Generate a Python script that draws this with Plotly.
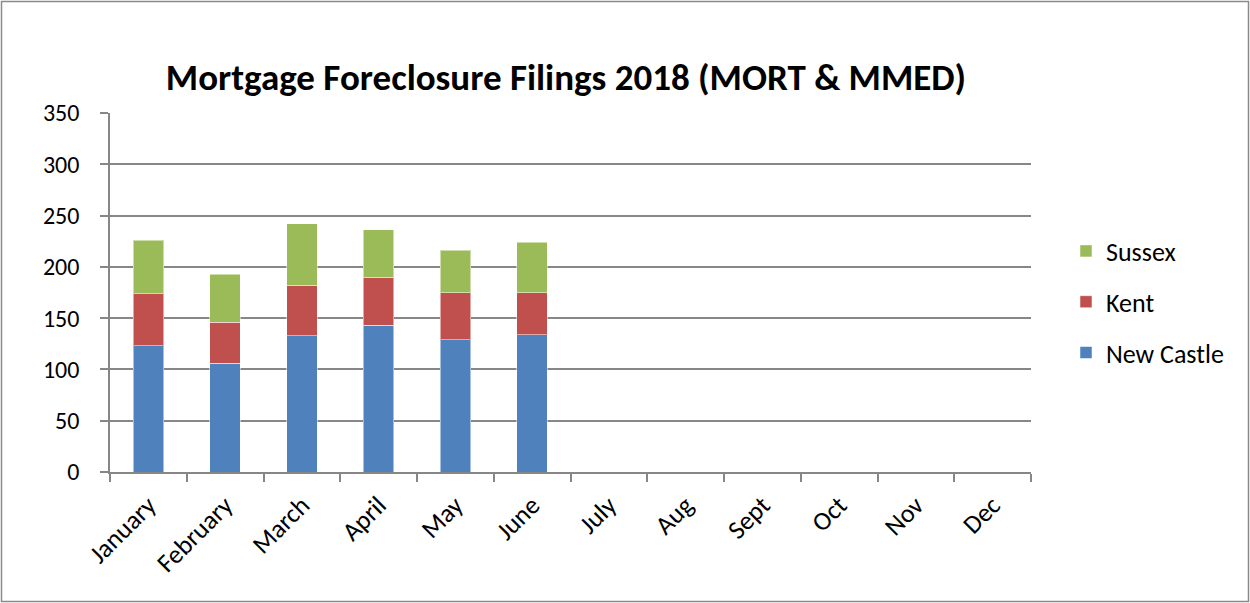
import plotly.graph_objects as go

months = ["January", "February", "March", "April", "May", "June",
          "July", "Aug", "Sept", "Oct", "Nov", "Dec"]
new_castle = [123, 106, 133, 143, 129, 134, None, None, None, None, None, None]
kent = [51, 40, 49, 47, 46, 41, None, None, None, None, None, None]
sussex = [52, 47, 60, 46, 41, 49, None, None, None, None, None, None]
y_ticks = [0, 50, 100, 150, 200, 250, 300, 350]

W, H = 1250, 603
L, R, T, B = 110, 219, 113, 131
FONT = "Carlito, Lato, 'Liberation Sans', sans-serif"
GRID = "#878787"

fig = go.Figure()
series = [("New Castle", new_castle, "#4F81BD", 3),
          ("Kent", kent, "#C0504D", 2),
          ("Sussex", sussex, "#9BBB59", 1)]
for name, vals, col, rank in series:
    fig.add_trace(go.Bar(
        x=months, y=vals, name=name, legendgroup=name, legendrank=rank,
        marker=dict(color=col, line=dict(color="rgba(255,255,255,0.5)", width=1)),
    ))

pw = W - L - R
ph = H - T - B
fig.add_shape(type="rect", xref="paper", yref="paper",
              x0=(1.5 - L) / pw, x1=(W - 1.5 - L) / pw,
              y0=-(H - 1.5 - T - ph) / ph, y1=(T - 1.5) / ph + 1,
              line=dict(color="#8a8a8a", width=1.5), layer="below")

fig.update_layout(
    width=W, height=H,
    margin=dict(l=L, r=R, t=T, b=B, pad=0, autoexpand=False),
    plot_bgcolor="white", paper_bgcolor="white",
    barmode="stack", bargap=0.6,
    title=dict(text="<b>Mortgage Foreclosure Filings 2018 (MORT &amp; MMED)</b>",
               x=566 / W, xanchor="center", y=1 - 77 / H, yanchor="middle",
               font=dict(family=FONT, size=37, color="black")),
    font=dict(family=FONT, color="black"),
    legend=dict(x=(1066 - L) / pw, xanchor="left", y=1 - (302 - T) / ph, yanchor="middle",
                traceorder="grouped", tracegroupgap=14,
                font=dict(family=FONT, size=26, color="black"),
                itemwidth=30),
    showlegend=True,
)
fig.update_xaxes(
    type="category", categoryorder="array", categoryarray=months,
    range=[-0.5, 11.5],
    showline=True, linecolor=GRID, linewidth=1.5,
    ticks="outside", tickson="boundaries", ticklen=8, tickcolor=GRID, tickwidth=1.5,
    ticklabelstandoff=6,
    tickangle=-45, tickfont=dict(family=FONT, size=26, color="black"),
    showgrid=False,
)
fig.update_yaxes(
    range=[0, 350], tickvals=y_ticks,
    showline=True, linecolor=GRID, linewidth=1.5,
    ticks="outside", ticklen=8, tickcolor=GRID, tickwidth=1.5,
    ticklabelstandoff=16,
    showgrid=True, gridcolor=GRID, gridwidth=1.5,
    zeroline=False,
    tickfont=dict(family=FONT, size=24, color="black"),
)

fig.write_html("out.html", config={"displayModeBar": False},
               post_script="document.body.style.margin='0';")
